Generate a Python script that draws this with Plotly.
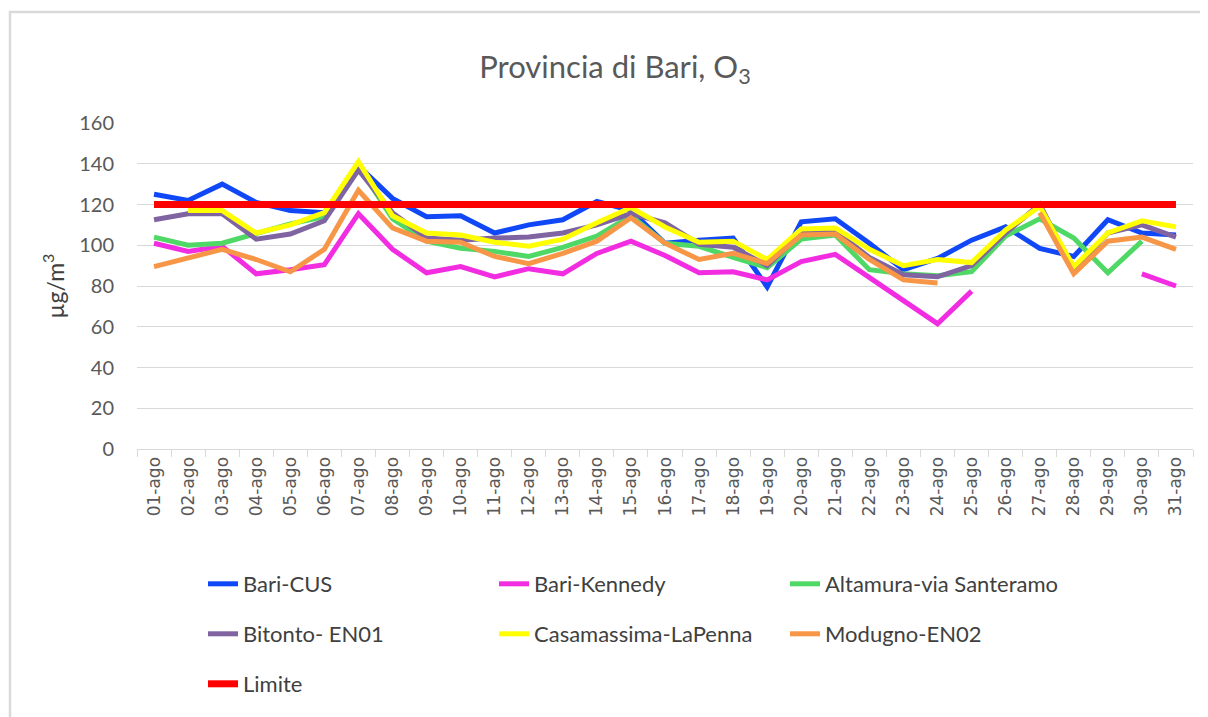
import plotly.graph_objects as go

days = [f"{d:02d}-ago" for d in range(1, 32)]

bari_cus = [125, 122, 130, 121, 117, 116, 139, 123, 114, 114.5, 106, 110, 112.5, 121.5, 117, 101,
            102.5, 103.5, 79.5, 111.5, 113, 101, 88, 93.5, 102.5, 109, 98.5, 94.5, 112.5, 106, 105]
bari_kennedy = [101, 97, 99.5, 86, 88, 90.5, 115.5, 98, 86.5, 89.5, 84.5, 88.5, 86, 96, 102, 95,
                86.5, 87, 83, 92, 95.5, 84, 73, 61.5, 77.5, None, None, None, None, 86, 80]
altamura = [104, 100, 101, 106, 110.5, 114, 139, 113, 102, 98.5, 97, 94.5, 99, 104.5, 114.5, 101,
            99.5, 94, 89, 103, 105, 88, 86, 85, 87, 104.5, 113, 103.5, 86.5, 102, None]
bitonto = [112.5, 115.5, 115.5, 103, 105.5, 112, 137, 116, 103.5, 102.5, 103.5, 104, 106, 110, 115.5, 111,
           100.5, 99, 90, 106, 107, 94, 85.5, 84.5, 90, 106, 120, 88, 106, 110, 104]
casamassima = [None, 117, 117, 106, 110, 116, 141, 114.5, 106, 105, 101.5, 99.5, 103, 111, 118.5, 109,
               101.5, 102, 93, 108, 108.5, 98, 90, 93, 91.5, 107.5, 119, 89.5, 106, 112, 109]
modugno = [89.5, 94, 98, 93, 87, 98, 127, 108.5, 102, 101.5, 94.5, 91, 96, 102, 113.5, 101,
           93, 96, 91, 105, 105.5, 93, 83, 81.5, None, None, 116, 86, 102, 104, 98]
limite = [120] * 31

series = [
    ("Bari-CUS", bari_cus, "#1048F8", 5, "legend"),
    ("Bari-Kennedy", bari_kennedy, "#F22CE0", 5, "legend"),
    ("Altamura-via Santeramo", altamura, "#4FD865", 5, "legend"),
    ("Bitonto- EN01", bitonto, "#8064A2", 5, "legend2"),
    ("Casamassima-LaPenna", casamassima, "#FFFF00", 5, "legend2"),
    ("Modugno-EN02", modugno, "#F79646", 5, "legend2"),
    ("Limite", limite, "#FF0000", 7, "legend3"),
]

fig = go.Figure()
for name, vals, color, w, leg in series:
    fig.add_trace(go.Scatter(x=days, y=vals, mode="lines", name=name,
                             line=dict(color=color, width=w),
                             connectgaps=False, legend=leg))

OFF = 8  # page body offset in the screenshot
W, H = 1208 - OFF, 717 - OFF
L, R, T, B = 137 - OFF, 1193 - OFF, 123 - OFF, 449 - OFF
pw, ph = R - L, B - T


def px_x(x):
    return (x - OFF - L) / pw


def px_y(y):
    return (B - (y - OFF)) / ph


font = "Lato, 'Open Sans', sans-serif"
legfont = dict(family=font, size=22, color="#404040")
leg_common = dict(orientation="h", xanchor="left", yanchor="middle",
                  entrywidth=246, font=legfont, bgcolor="rgba(0,0,0,0)",
                  itemwidth=30, tracegroupgap=0)

fig.update_layout(
    width=W, height=H,
    margin=dict(l=L, r=W - R, t=T, b=H - B, autoexpand=False),
    paper_bgcolor="white", plot_bgcolor="white",
    title=dict(text="Provincia di Bari, O<sub>3</sub>", x=(615 - OFF) / W, xanchor="center",
               y=1 - (67 - OFF) / H, yanchor="middle", yref="container",
               font=dict(family=font, size=31, color="#595959")),
    font=dict(family=font, color="#595959"),
    legend=dict(x=px_x(203), y=px_y(584), **leg_common),
    legend2=dict(x=px_x(203), y=px_y(634), **leg_common),
    legend3=dict(x=px_x(203), y=px_y(684), **leg_common),
    showlegend=True,
)

fig.update_yaxes(range=[0, 160], dtick=20, showgrid=True, gridcolor="#d9d9d9", gridwidth=1.3,
                 zeroline=False, showline=False, ticks="", ticklabelstandoff=22,
                 tickfont=dict(family=font, size=20, color="#595959"),
                 title=dict(text="µg/m<sup>3</sup>", standoff=8,
                            font=dict(family=font, size=23, color="#404040")))
fig.update_xaxes(type="category", range=[-0.5, 30.5], showgrid=False, showline=True,
                 linecolor="#d9d9d9", linewidth=1.3,
                 ticks="outside", tickson="boundaries", ticklen=7, tickcolor="#d9d9d9",
                 tickangle=-90, tickfont=dict(family="'DejaVu Sans', sans-serif", size=17, color="#595959"))

# chart outer border (light gray)
fig.add_shape(type="rect", xref="paper", yref="paper",
              x0=px_x(10), x1=px_x(1230), y0=px_y(740), y1=px_y(12),
              line=dict(color="#d9d9d9", width=2.5), fillcolor="rgba(0,0,0,0)", layer="below")

fig.write_html("out.html")
